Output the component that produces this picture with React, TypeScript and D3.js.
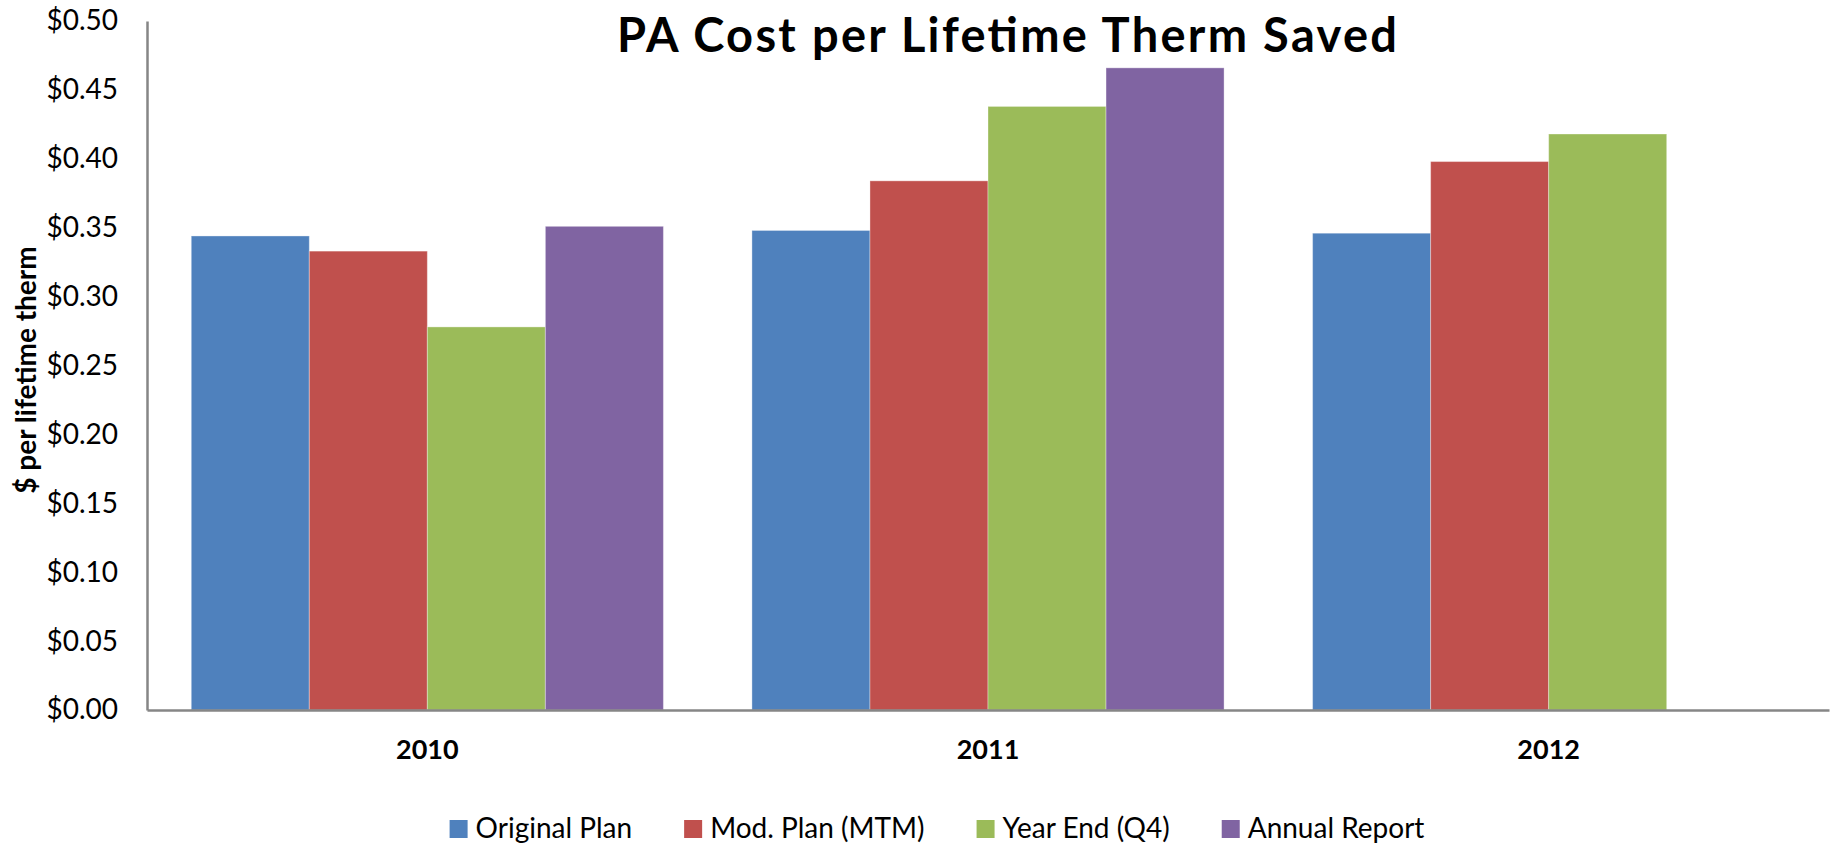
import { useRef, useEffect } from "react";
import * as d3 from "d3";

// Chart data
const years = ["2010", "2011", "2012"];
const seriesNames = ["Original Plan", "Mod. Plan (MTM)", "Year End (Q4)", "Annual Report"];
const originalPlan = [0.344, 0.348, 0.346];
const modPlan = [0.333, 0.384, 0.398];
const yearEnd = [0.278, 0.438, 0.418];
const annualReport: (number | null)[] = [0.351, 0.466, null];
const colors = ["#4F81BD", "#C0504D", "#9BBB59", "#8064A2"];
const yTicks = [0, 0.05, 0.1, 0.15, 0.2, 0.25, 0.3, 0.35, 0.4, 0.45, 0.5];

const W = 1836;
const H = 847;
const FONT = "Lato, 'Open Sans', sans-serif";

export default function App() {
  const svgRef = useRef<SVGSVGElement | null>(null);

  useEffect(() => {
    const svg = d3.select(svgRef.current);
    svg.selectAll("*").remove();

    const left = 147;
    const right = 1829;
    const top = 21;
    const bottom = 710;

    // Scales
    const x0 = d3.scaleBand<string>().domain(years).range([left, right]);
    const x1 = d3
      .scaleBand<string>()
      .domain(seriesNames)
      .range([0, x0.bandwidth()])
      .paddingOuter(0.375);
    const y = d3.scaleLinear().domain([0, 0.5]).range([bottom, top]);

    const values = [originalPlan, modPlan, yearEnd, annualReport];
    const rows = years.flatMap((yr, i) =>
      seriesNames.map((s, j) => ({ yr, s, j, v: values[j][i] }))
    ).filter((d) => d.v != null);

    // Bars
    svg
      .append("g")
      .selectAll("rect")
      .data(rows)
      .join("rect")
      .attr("x", (d) => x0(d.yr)! + x1(d.s)!)
      .attr("y", (d) => y(d.v as number))
      .attr("width", x1.bandwidth())
      .attr("height", (d) => bottom - y(d.v as number))
      .attr("fill", (d) => colors[d.j])
      .attr("stroke", "#ffffff")
      .attr("stroke-opacity", 0.35)
      .attr("stroke-width", 1);

    // Y axis
    const yAxis = d3
      .axisLeft(y)
      .tickValues(yTicks)
      .tickSize(0)
      .tickPadding(29)
      .tickFormat((d) => "$" + (d as number).toFixed(2));
    const gy = svg
      .append("g")
      .attr("transform", `translate(${left},0)`)
      .call(yAxis);
    gy.select(".domain").attr("stroke", "#868686").attr("stroke-width", 2.5);
    gy.selectAll("text")
      .attr("font-family", FONT)
      .attr("font-size", 28)
      .attr("fill", "#000");

    // X axis
    const xAxis = d3.axisBottom(x0).tickSize(0).tickPadding(30);
    const gx = svg
      .append("g")
      .attr("transform", `translate(0,${bottom})`)
      .call(xAxis);
    gx.select(".domain").attr("stroke", "#868686").attr("stroke-width", 2.5);
    gx.selectAll("text")
      .attr("font-family", FONT)
      .attr("font-size", 27)
      .attr("font-weight", "bold")
      .attr("fill", "#000");

    // Title
    svg
      .append("text")
      .attr("x", 1007)
      .attr("y", 52)
      .attr("text-anchor", "middle")
      .attr("font-family", FONT)
      .attr("font-size", 47)
      .attr("font-weight", "bold")
      .attr("textLength", 780)
      .attr("lengthAdjust", "spacing")
      .text("PA Cost per Lifetime Therm Saved");

    // Y axis title
    svg
      .append("text")
      .attr("transform", `translate(36,370) rotate(-90)`)
      .attr("text-anchor", "middle")
      .attr("font-family", FONT)
      .attr("font-size", 28)
      .attr("font-weight", "bold")
      .text("$ per lifetime therm");

    // Legend
    const legend = svg.append("g");
    const items = legend
      .selectAll("g")
      .data(seriesNames)
      .join("g");
    items
      .append("rect")
      .attr("width", 18)
      .attr("height", 18)
      .attr("y", -18)
      .attr("fill", (_, i) => colors[i]);
    items
      .append("text")
      .attr("x", 26)
      .attr("font-family", FONT)
      .attr("font-size", 28)
      .attr("fill", "#000")
      .text((d) => d);
    let cx = 0;
    const gap = 52;
    items.each(function () {
      const g = d3.select(this);
      const w = 26 + (g.select("text").node() as SVGTextElement).getComputedTextLength();
      g.attr("transform", `translate(${cx},838)`);
      cx += w + gap;
    });
    const total = cx - gap;
    legend.attr("transform", `translate(${937 - total / 2},0)`);
  }, []);

  return (
    <svg
      ref={svgRef}
      width={W}
      height={H}
      style={{ position: "absolute", top: 0, left: 0, background: "#fff" }}
    />
  );
}
